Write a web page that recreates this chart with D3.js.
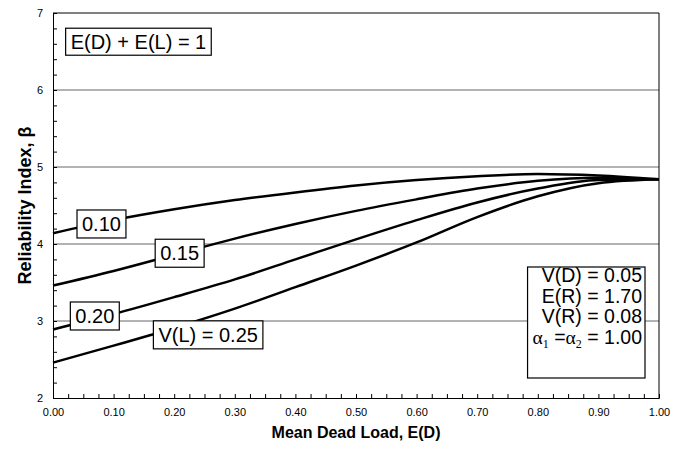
<!DOCTYPE html>
<html>
<head>
<meta charset="utf-8">
<script src="https://cdn.jsdelivr.net/npm/d3@7"></script>
<style>
  body { margin: 0; background: #fff; }
  svg { display: block; font-family: "Liberation Sans", Arial, Helvetica, sans-serif; }
</style>
</head>
<body>
<div id="chart"></div>
<script>
// data
const deadLoad = [0.0, 0.1, 0.2, 0.3, 0.4, 0.5, 0.6, 0.7, 0.8, 0.9, 1.0];
const betaVL010 = [4.14, 4.31, 4.45, 4.57, 4.67, 4.76, 4.83, 4.88, 4.91, 4.89, 4.84];
const betaVL015 = [3.46, 3.65, 3.86, 4.07, 4.26, 4.43, 4.58, 4.72, 4.82, 4.86, 4.84];
const betaVL020 = [2.89, 3.09, 3.31, 3.54, 3.80, 4.06, 4.31, 4.54, 4.72, 4.83, 4.84];
const betaVL025 = [2.46, 2.68, 2.91, 3.16, 3.44, 3.72, 4.02, 4.35, 4.62, 4.79, 4.84];
const seriesNames = ["0.10", "0.15", "0.20", "V(L) = 0.25"];
const xTickLabels = [0, 0.1, 0.2, 0.3, 0.4, 0.5, 0.6, 0.7, 0.8, 0.9, 1.0];
const yTickLabels = [2, 3, 4, 5, 6, 7];
const gridValues = [3, 4, 5, 6];

// label anchors (data units)
const labelAt = [[0.080, 4.26], [0.209, 3.88], [0.069, 3.065], [0.256, 2.82]];

const series = [betaVL010, betaVL015, betaVL020, betaVL025].map((vals, i) => ({
  name: seriesNames[i],
  points: vals.map((b, j) => ({ d: deadLoad[j], b: b })),
  label: labelAt[i]
}));

// dimensions
const w = 687;
const h = 453;
const padLeft = 53;
const padRight = 28;
const padTop = 13;
const padBot = 55;

const svg = d3.select("#chart").append("svg")
  .attr("width", w)
  .attr("height", h);

svg.append("rect").attr("width", w).attr("height", h).attr("fill", "#fff");

const xScale = d3.scaleLinear().domain([0, 1]).range([padLeft, w - padRight]);
const yScale = d3.scaleLinear().domain([2, 7]).range([h - padBot, padTop]);

// gridlines
svg.append("g").selectAll("line")
  .data(gridValues)
  .join("line")
  .attr("x1", xScale(0)).attr("x2", xScale(1))
  .attr("y1", d => yScale(d)).attr("y2", d => yScale(d))
  .attr("stroke", "#666")
  .attr("stroke-width", 1);

// frame top / right
svg.append("line")
  .attr("x1", xScale(0)).attr("x2", xScale(1))
  .attr("y1", yScale(7)).attr("y2", yScale(7))
  .attr("stroke", "#000");
svg.append("line")
  .attr("x1", xScale(1)).attr("x2", xScale(1))
  .attr("y1", yScale(7)).attr("y2", yScale(2))
  .attr("stroke", "#000");

// minor ticks (inside)
const yMinor = d3.range(2, 7.001, 0.2);
svg.append("g")
  .attr("transform", `translate(${padLeft},0)`)
  .call(d3.axisLeft(yScale).tickValues(yMinor).tickSize(-4).tickFormat(""))
  .call(g => g.selectAll("path,line").attr("stroke", "#000"));
const xMinor = d3.range(0, 1.0001, 0.025);
svg.append("g")
  .attr("transform", `translate(0,${h - padBot})`)
  .call(d3.axisBottom(xScale).tickValues(xMinor).tickSize(-4).tickFormat(""))
  .call(g => g.selectAll("path,line").attr("stroke", "#000"));

// tick labels
svg.append("g")
  .attr("transform", `translate(${padLeft},0)`)
  .call(d3.axisLeft(yScale).tickValues(yTickLabels).tickSize(0).tickPadding(10).tickFormat(d3.format("d")))
  .call(g => g.select(".domain").remove())
  .call(g => g.selectAll("text").attr("font-size", 11).attr("font-family", null).attr("fill", "#000"));
svg.append("g")
  .attr("transform", `translate(0,${h - padBot})`)
  .call(d3.axisBottom(xScale).tickValues(xTickLabels).tickSize(0).tickPadding(10).tickFormat(d3.format(".2f")))
  .call(g => g.select(".domain").remove())
  .call(g => g.selectAll("text").attr("font-size", 11).attr("font-family", null).attr("fill", "#000"));

// axis titles
svg.append("text")
  .text("Mean Dead Load, E(D)")
  .attr("x", (xScale(0) + xScale(1)) / 2)
  .attr("y", 438)
  .attr("text-anchor", "middle")
  .attr("font-weight", "bold")
  .attr("font-size", 16);
svg.append("text")
  .text("Reliability Index, β")
  .attr("transform", `translate(25,${(yScale(2) + yScale(7)) / 2}) rotate(-90)`)
  .attr("dy", "0.35em")
  .attr("text-anchor", "middle")
  .attr("font-weight", "bold")
  .attr("font-size", 18);

// curves
const line = d3.line()
  .x(p => xScale(p.d))
  .y(p => yScale(p.b))
  .curve(d3.curveMonotoneX);
svg.append("g").selectAll("path")
  .data(series)
  .join("path")
  .attr("d", s => line(s.points))
  .attr("fill", "none")
  .attr("stroke", "#000")
  .attr("stroke-width", 2.5);

// boxed label helper
function boxedText(cx, cy, txt, size, padX, boxH) {
  const g = svg.append("g");
  const rect = g.append("rect");
  const t = g.append("text")
    .text(txt)
    .attr("x", cx)
    .attr("y", cy)
    .attr("dy", "0.36em")
    .attr("text-anchor", "middle")
    .attr("font-size", size);
  const bb = t.node().getBBox();
  rect.attr("x", cx - bb.width / 2 - padX)
    .attr("y", cy - boxH / 2)
    .attr("width", bb.width + padX * 2)
    .attr("height", boxH)
    .attr("fill", "#fff")
    .attr("stroke", "#000")
    .attr("stroke-width", 1.2);
}

series.forEach(s => boxedText(xScale(s.label[0]), yScale(s.label[1]), s.name, 20, 5, 28));
boxedText(xScale(0.141), yScale(6.627), "E(D) + E(L) = 1", 20, 5, 27);

// parameter box
const params = ["V(D) = 0.05", "E(R) = 1.70", "V(R) = 0.08"];
const pg = svg.append("g");
const pRect = pg.append("rect");
const pRight = 642;
const pTop = 267;
params.forEach((p, i) => {
  pg.append("text")
    .text(p)
    .attr("x", pRight)
    .attr("y", pTop + 15 + i * 20.5)
    .attr("text-anchor", "end")
    .attr("font-size", 19.5);
});
const serif = "'Liberation Serif', 'Times New Roman', serif";
const alphaLine = pg.append("text")
  .attr("x", pRight)
  .attr("y", pTop + 15 + 3 * 20.5)
  .attr("text-anchor", "end")
  .attr("font-size", 19.5);
alphaLine.append("tspan").text("α").attr("font-family", serif);
alphaLine.append("tspan").text("1").attr("font-size", 12).attr("dy", 4).attr("font-family", serif);
alphaLine.append("tspan").text(" =").attr("dy", -4);
alphaLine.append("tspan").text("α").attr("font-family", serif);
alphaLine.append("tspan").text("2").attr("font-size", 12).attr("dy", 4).attr("font-family", serif);
alphaLine.append("tspan").text(" = 1.00").attr("dy", -4);
const pbb = pg.node().getBBox();
pRect.attr("x", pbb.x - 5)
  .attr("y", pTop)
  .attr("width", pRight + 3 - (pbb.x - 5))
  .attr("height", 111)
  .attr("fill", "#fff")
  .attr("stroke", "#000")
  .attr("stroke-width", 1.2);
</script>
</body>
</html>
